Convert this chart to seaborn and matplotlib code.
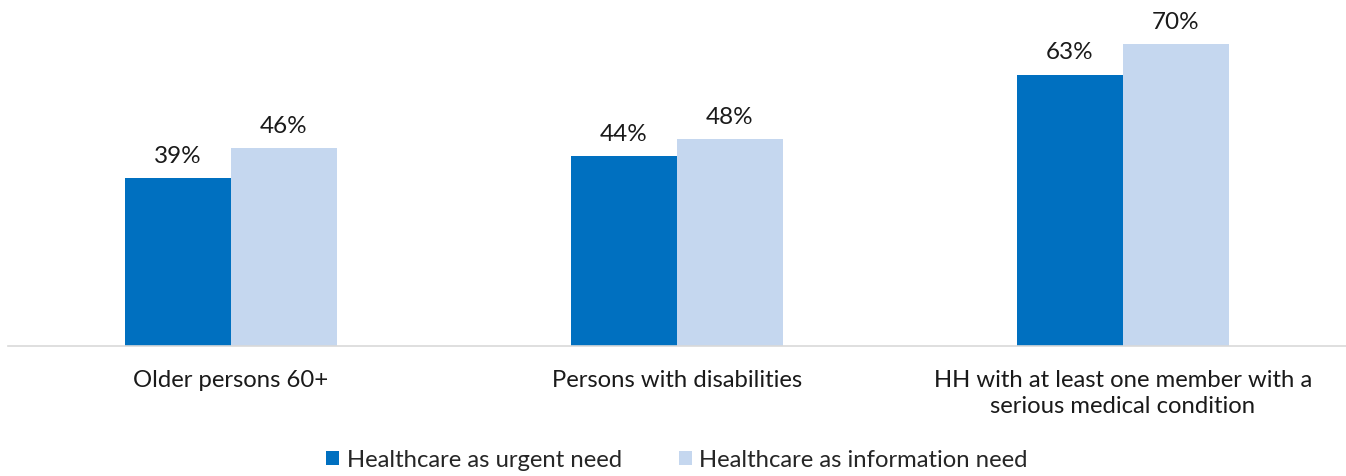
import pandas as pd
import matplotlib.pyplot as plt
import seaborn as sns

categories = ["Older persons 60+", "Persons with disabilities",
              "HH with at least one member with a\nserious medical condition"]
series = ["Healthcare as urgent need", "Healthcare as information need"]
urgent = [39, 44, 63]
information = [46, 48, 70]
colors = ["#0070C0", "#C5D7EF"]

df = pd.DataFrame({
    "category": categories * 2,
    "series": [series[0]] * 3 + [series[1]] * 3,
    "value": urgent + information,
})

sns.set_theme(style="white")
plt.rcParams['font.family'] = ['Lato', 'DejaVu Sans']

fig = plt.figure(figsize=(13.46, 4.76), dpi=100)
ax = fig.add_axes([0.006, 0.273, 0.994, 0.727])

sns.barplot(data=df, x="category", y="value", hue="series", palette=colors,
            width=0.475, gap=0, saturation=1, linewidth=0, ax=ax, legend=True)

for cont in ax.containers:
    ax.bar_label(cont, labels=[f"{v:.0f}%" for v in cont.datavalues],
                 padding=8, fontsize=17.5, color="#1a1a1a")

ax.set_ylim(0, 80.3)
ax.set_xlim(-0.5, 2.5)
ax.set_xlabel("")
ax.set_ylabel("")
ax.set_yticks([])
for s in ["top", "right", "left"]:
    ax.spines[s].set_visible(False)
ax.spines["bottom"].set_color("#D9D9D9")
ax.spines["bottom"].set_linewidth(1.2)
ax.tick_params(axis="x", length=0, pad=17, labelsize=17.2, labelcolor="#1a1a1a")
for t in ax.get_xticklabels():
    t.set_linespacing(1.3)

handles, labels = ax.get_legend_handles_labels()
ax.legend(handles, labels, loc="center", bbox_to_anchor=(0.5, -0.33),
          ncol=2, frameon=False, fontsize=17.2, handlelength=0.55,
          handleheight=0.55, handletextpad=0.3, columnspacing=2.4)

fig.savefig("out.png", dpi=100)
